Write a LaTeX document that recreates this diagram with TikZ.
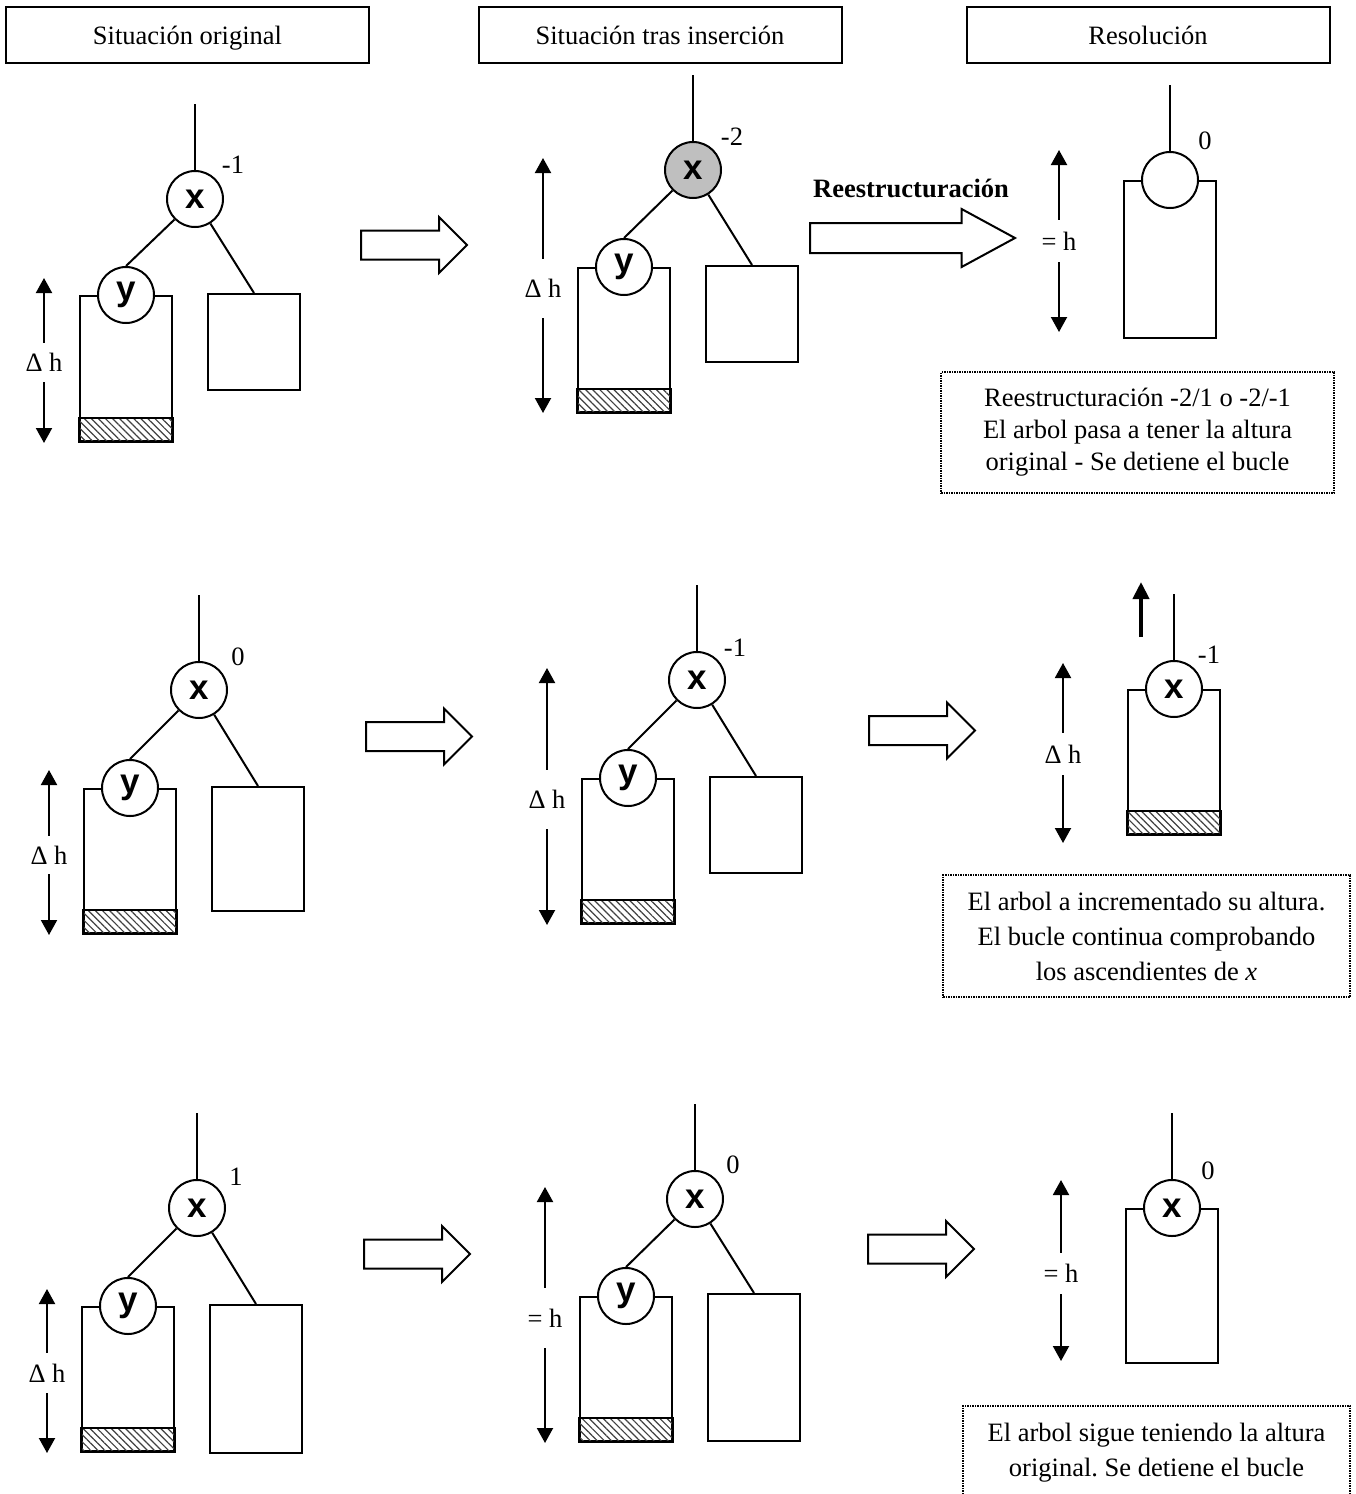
\documentclass[tikz,border=0pt]{standalone}
\usepackage{fontspec}
\setmainfont{Liberation Serif}
\newfontfamily\nodefont{Liberation Sans}
\usetikzlibrary{arrows.meta, shapes.arrows, patterns.meta, positioning}
\frenchspacing

\begin{document}
\begin{tikzpicture}[x=1pt, y=-1pt,
  font=\fontsize{26.5}{32}\selectfont,
  header/.style={
    draw,
    line width=2pt,
    minimum width=363pt,
    minimum height=56pt,
    text height=22pt,
    text depth=3pt,
    inner sep=0pt
  },
  nodo/.style={
    draw,
    circle,
    fill=white,
    line width=2pt,
    minimum size=56pt,
    inner sep=0pt,
    font=\nodefont\bfseries\fontsize{35}{40}\selectfont
  },
  subtree/.style={
    draw,
    line width=2pt,
    anchor=north west,
    minimum width=92pt,
    inner sep=0pt
  },
  hatch/.style={
    draw,
    line width=2pt,
    pattern={Lines[angle=-45, distance=5pt, line width=1.2pt]},
    pattern color=black!75
  },
  edge/.style={line width=2pt},
  dim/.style={
    line width=2pt,
    {Triangle[width=16pt,length=15pt]}-{Triangle[width=16pt,length=15pt]}
  },
  dimlbl/.style={fill=white, inner sep=0pt},
  bal/.style={inner sep=0pt},
  bigarrow/.style={
    draw,
    line width=2pt,
    single arrow,
    anchor=tail,
    minimum height=106pt,
    inner xsep=0pt,
    inner ysep=13.5pt,
    single arrow head extend=13.5pt,
    single arrow tip angle=90
  },
  note/.style={
    draw,
    densely dotted,
    line width=1.5pt,
    align=center,
    inner sep=0pt
  }
]
\useasboundingbox (0,0) rectangle (1356,1494);

%the headers
\node[header] (h1) at (187.5,35) {Situación original};
\node[header] (h2) at (660,35) {Situación tras inserción};
\node[header] (h3) at (1148,35) {Resolución};

%%%%%%%%%%%%%%%% row 1
%original
\node[subtree, minimum height=145pt] (L1) at (79,295) {};
\node[subtree, minimum height=96pt] (R1) at (207,293) {};
\draw[hatch] (L1.south west) rectangle ([yshift=24pt]L1.south east);
\node[nodo] (x1) at (195,199) {x};
\node[nodo] (y1) at (L1.north) {y};
\node[bal] (b1) at (233,165) {-1};
\draw[edge] (x1.north) -- ++(0,-66) coordinate (t1);
\draw[edge] (x1.south west) -- (y1.north);
\draw[edge] (x1) -- (R1.north);
\coordinate (a1t) at (44,278);
\coordinate (a1b) at (44,443);
\draw[dim] (a1t) -- (a1b);
\node[dimlbl, minimum height=39pt] (d1) at (44,362) {Δ h};

\node[bigarrow] (ar1) at (360,245) {};

%after insertion
\node[subtree, minimum height=144pt] (L2) at (577,267) {};
\node[subtree, minimum height=96pt] (R2) at (705,265) {};
\draw[hatch] (L2.south west) rectangle ([yshift=24pt]L2.south east);
\node[nodo, fill=black!25] (x2) at (693,170) {x};
\node[nodo] (y2) at (L2.north) {y};
\node[bal] (b2) at (732,137) {-2};
\draw[edge] (x2.north) -- ++(0,-66) coordinate (t2);
\draw[edge] (x2.south west) -- (y2.north);
\draw[edge] (x2) -- (R2.north);
\coordinate (a2t) at (543,158);
\coordinate (a2b) at (543,413);
\draw[dim] (a2t) -- (a2b);
\node[dimlbl, minimum height=59pt] (d2) at (543,288) {Δ h};

\node[font=\fontsize{26.5}{32}\selectfont\bfseries] (re) at (911,188) {Reestructuración};
\node[bigarrow, minimum height=205pt, inner ysep=14pt, single arrow head extend=14pt,
  single arrow tip angle=57] (ar2) at (809,238) {};

%resolution
\node[subtree, minimum height=157pt] (C1) at (1123,180) {};
\node[nodo] (z1) at (C1.north) {};
\node[bal] (b3) at (1205,141) {0};
\draw[edge] (z1.north) -- ++(0,-66) coordinate (t3);
\coordinate (a3t) at (1059,150);
\coordinate (a3b) at (1059,332);
\draw[dim] (a3t) -- (a3b);
\node[dimlbl, minimum height=42pt] (d3) at (1059,241) {= h};

\node[note, minimum width=393pt, minimum height=121pt] (n1) at (1137.5,432.5)
  {Reestructuración -2/1 o -2/-1\\El arbol pasa a tener la altura\\original - Se detiene el bucle};

%%%%%%%%%%%%%%%% row 2
%original
\node[subtree, minimum height=144pt] (L3) at (83,788) {};
\node[subtree, minimum height=124pt] (R3) at (211,786) {};
\draw[hatch] (L3.south west) rectangle ([yshift=24pt]L3.south east);
\node[nodo] (x3) at (199,690) {x};
\node[nodo] (y3) at (L3.north) {y};
\node[bal] (b4) at (238,657) {0};
\draw[edge] (x3.north) -- ++(0,-66) coordinate (t4);
\draw[edge] (x3.south west) -- (y3.north);
\draw[edge] (x3) -- (R3.north);
\coordinate (a4t) at (49,770);
\coordinate (a4b) at (49,935);
\draw[dim] (a4t) -- (a4b);
\node[dimlbl, minimum height=38pt] (d4) at (49,855) {Δ h};

\node[bigarrow] (ar3) at (365,736.5) {};

%after insertion
\node[subtree, minimum height=144pt] (L4) at (581,778) {};
\node[subtree, minimum height=96pt] (R4) at (709,776) {};
\draw[hatch] (L4.south west) rectangle ([yshift=24pt]L4.south east);
\node[nodo] (x4) at (697,680) {x};
\node[nodo] (y4) at (L4.north) {y};
\node[bal] (b5) at (735,648) {-1};
\draw[edge] (x4.north) -- ++(0,-66) coordinate (t5);
\draw[edge] (x4.south west) -- (y4.north);
\draw[edge] (x4) -- (R4.north);
\coordinate (a5t) at (547,668);
\coordinate (a5b) at (547,925);
\draw[dim] (a5t) -- (a5b);
\node[dimlbl, minimum height=59pt] (d5) at (547,799.5) {Δ h};

\node[bigarrow] (ar4) at (868,730.5) {};

%resolution
\node[subtree, minimum height=144pt] (C2) at (1127,689) {};
\draw[hatch] (C2.south west) rectangle ([yshift=24pt]C2.south east);
\node[nodo] (z2) at (C2.north) {x};
\node[bal] (b6) at (1209,655) {-1};
\draw[edge] (z2.north) -- ++(0,-66) coordinate (t6);
\coordinate (up1b) at (1141,637);
\coordinate (up1t) at (1141,582);
\draw[line width=4pt, -{Triangle[width=16pt,length=17pt]}] (up1b) -- (up1t);
\coordinate (a6t) at (1063,663);
\coordinate (a6b) at (1063,843);
\draw[dim] (a6t) -- (a6b);
\node[dimlbl, minimum height=42pt] (d6) at (1063,754) {Δ h};

\node[note, minimum width=407pt, minimum height=122pt, font=\fontsize{26.5}{35}\selectfont]
  (n2) at (1146.5,936)
  {El arbol a incrementado su altura.\\El bucle continua comprobando\\los ascendientes de \textit{x}};

%%%%%%%%%%%%%%%% row 3
%original
\node[subtree, minimum height=144pt] (L5) at (81,1306) {};
\node[subtree, minimum height=148pt] (R5) at (209,1304) {};
\draw[hatch] (L5.south west) rectangle ([yshift=24pt]L5.south east);
\node[nodo] (x5) at (197,1208) {x};
\node[nodo] (y5) at (L5.north) {y};
\node[bal] (b7) at (236,1177) {1};
\draw[edge] (x5.north) -- ++(0,-66) coordinate (t7);
\draw[edge] (x5.south west) -- (y5.north);
\draw[edge] (x5) -- (R5.north);
\coordinate (a7t) at (47,1289);
\coordinate (a7b) at (47,1453);
\draw[dim] (a7t) -- (a7b);
\node[dimlbl, minimum height=40pt] (d7) at (47,1373) {Δ h};

\node[bigarrow] (ar5) at (363,1254) {};

%after insertion
\node[subtree, minimum height=144pt] (L6) at (579,1296) {};
\node[subtree, minimum height=147pt] (R6) at (707,1293) {};
\draw[hatch] (L6.south west) rectangle ([yshift=24pt]L6.south east);
\node[nodo] (x6) at (695,1199) {x};
\node[nodo] (y6) at (L6.north) {y};
\node[bal] (b8) at (733,1165) {0};
\draw[edge] (x6.north) -- ++(0,-66) coordinate (t8);
\draw[edge] (x6.south west) -- (y6.north);
\draw[edge] (x6) -- (R6.north);
\coordinate (a8t) at (545,1187);
\coordinate (a8b) at (545,1443);
\draw[dim] (a8t) -- (a8b);
\node[dimlbl, minimum height=60pt] (d8) at (545,1318) {= h};

\node[bigarrow] (ar6) at (867,1249) {};

%resolution
\node[subtree, minimum height=154pt] (C3) at (1125,1208) {};
\node[nodo] (z3) at (C3.north) {x};
\node[bal] (b9) at (1208,1171) {0};
\draw[edge] (z3.north) -- ++(0,-66) coordinate (t9);
\coordinate (a9t) at (1061,1180);
\coordinate (a9b) at (1061,1361);
\draw[dim] (a9t) -- (a9b);
\node[dimlbl, minimum height=41pt] (d9) at (1061,1273.5) {= h};

\node[note, anchor=north, minimum width=387pt, minimum height=94pt, font=\fontsize{26.5}{35}\selectfont]
  (n3) at (1156.5,1405)
  {El arbol sigue teniendo la altura\\original. Se detiene el bucle};

\end{tikzpicture}
\end{document}
